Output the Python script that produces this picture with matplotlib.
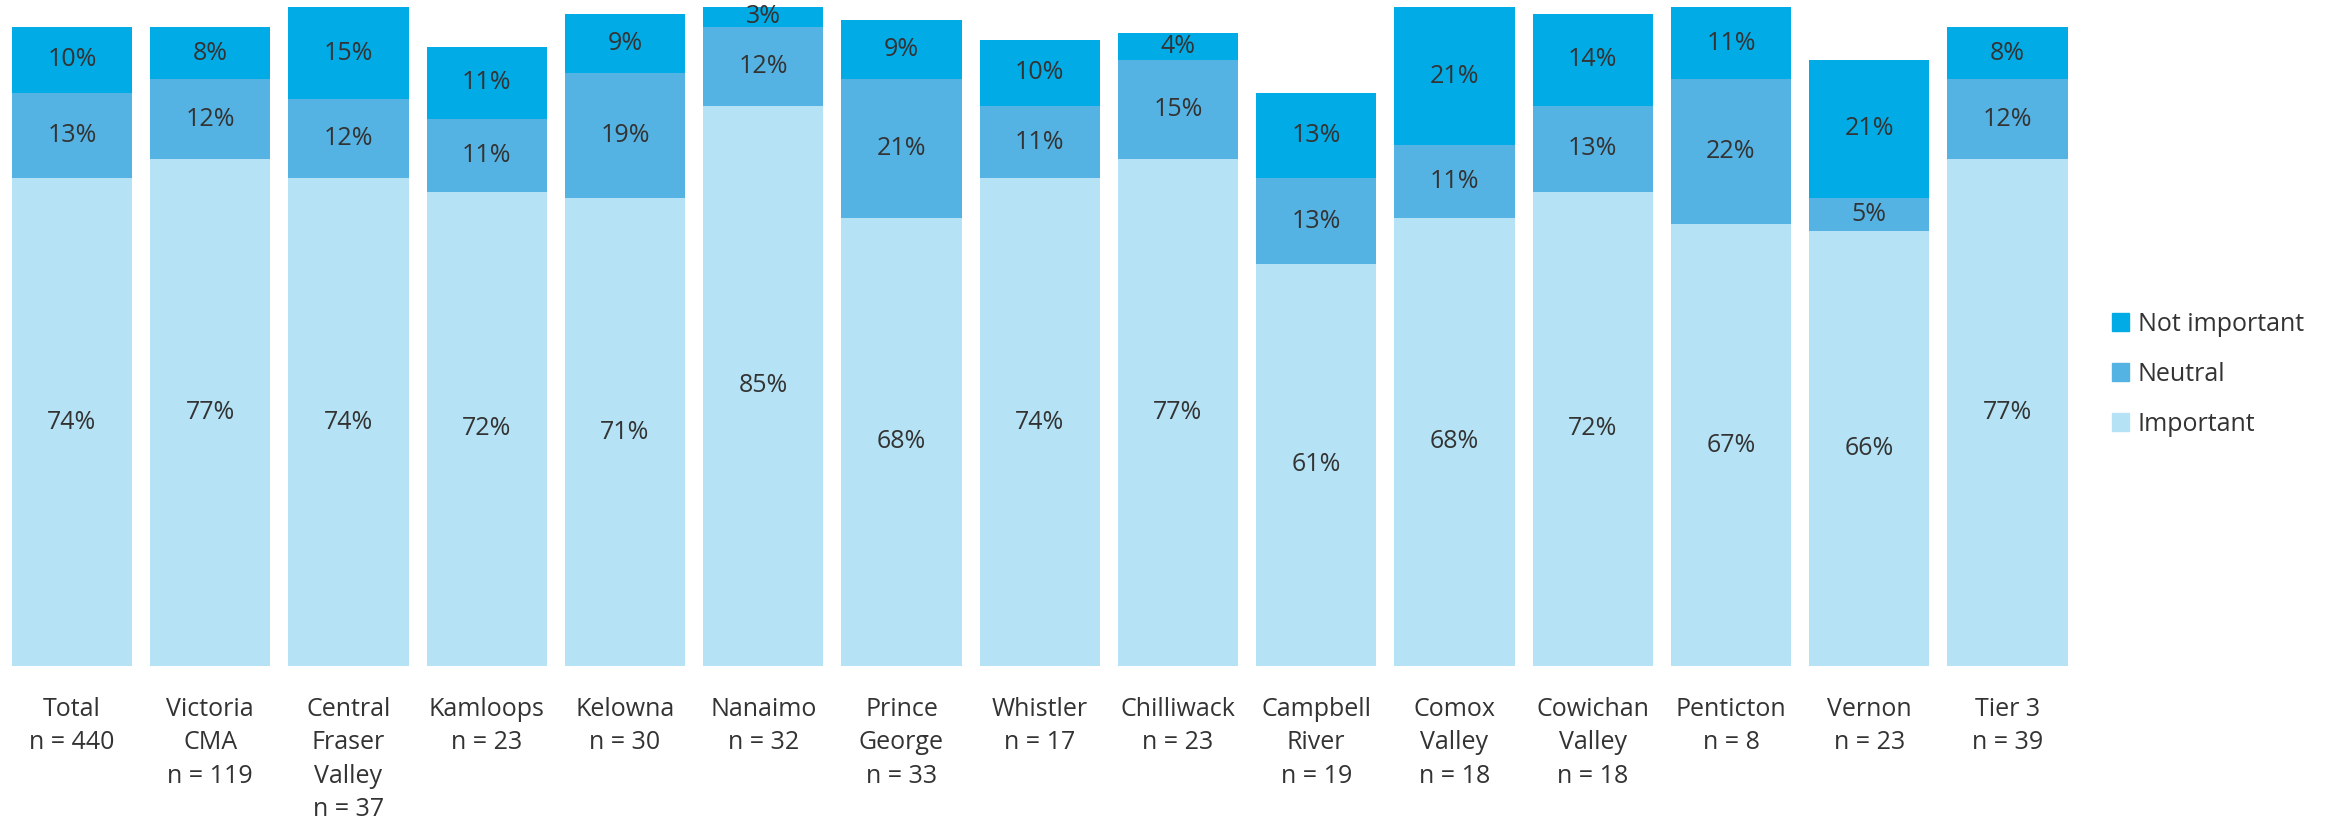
import matplotlib
matplotlib.use("Agg")
import matplotlib.pyplot as plt
from matplotlib.patches import Patch

plt.rcParams['font.family'] = ['Open Sans', 'DejaVu Sans']

# data
categories = ["Total\nn = 440", "Victoria\nCMA\nn = 119", "Central\nFraser\nValley\nn = 37",
              "Kamloops\nn = 23", "Kelowna\nn = 30", "Nanaimo\nn = 32", "Prince\nGeorge\nn = 33",
              "Whistler\nn = 17", "Chilliwack\nn = 23", "Campbell\nRiver\nn = 19",
              "Comox\nValley\nn = 18", "Cowichan\nValley\nn = 18", "Penticton\nn = 8",
              "Vernon\nn = 23", "Tier 3\nn = 39"]
important = [74, 77, 74, 72, 71, 85, 68, 74, 77, 61, 68, 72, 67, 66, 77]
neutral = [13, 12, 12, 11, 19, 12, 21, 11, 15, 13, 11, 13, 22, 5, 12]
not_important = [10, 8, 15, 11, 9, 3, 9, 10, 4, 13, 21, 14, 11, 21, 8]

c_imp = "#B5E3F5"
c_neu = "#55B3E4"
c_not = "#00ABE6"
txt = "#333333"

fig = plt.figure(figsize=(23.38, 8.22), dpi=100)
ax = fig.add_axes([0.0012, 0.1898, 0.887, 0.8017])

x = list(range(len(categories)))
w = 0.87
ax.bar(x, important, width=w, color=c_imp)
ax.bar(x, neutral, width=w, bottom=important, color=c_neu)
bot2 = [a + b for a, b in zip(important, neutral)]
ax.bar(x, not_important, width=w, bottom=bot2, color=c_not)

# percentage labels in the middle of each segment
for i in x:
    ax.text(i, important[i] / 2, f"{important[i]}%", ha='center', va='center', fontsize=18, color=txt)
    ax.text(i, important[i] + neutral[i] / 2, f"{neutral[i]}%", ha='center', va='center', fontsize=18, color=txt)
    top = min(bot2[i] + not_important[i], 100)
    ax.text(i, (bot2[i] + top) / 2, f"{not_important[i]}%", ha='center', va='center', fontsize=18, color=txt)

ax.set_xlim(-0.5, 14.5)
ax.set_ylim(0, 100)
ax.set_xticks(x)
ax.set_xticklabels(categories, fontsize=18, color=txt, linespacing=1.45, va='top')
ax.tick_params(axis='x', length=0, pad=22)
ax.set_yticks([])
for s in ax.spines.values():
    s.set_visible(False)

handles = [Patch(color=c_not, label="Not important"),
           Patch(color=c_neu, label="Neutral"),
           Patch(color=c_imp, label="Important")]
leg = fig.legend(handles=handles, loc='center left', bbox_to_anchor=(0.8935, 0.545),
                 frameon=False, fontsize=18, handlelength=0.7, handleheight=0.7,
                 handletextpad=0.35, labelspacing=1.0)
for t in leg.get_texts():
    t.set_color(txt)

fig.savefig("out.png", dpi=100)
